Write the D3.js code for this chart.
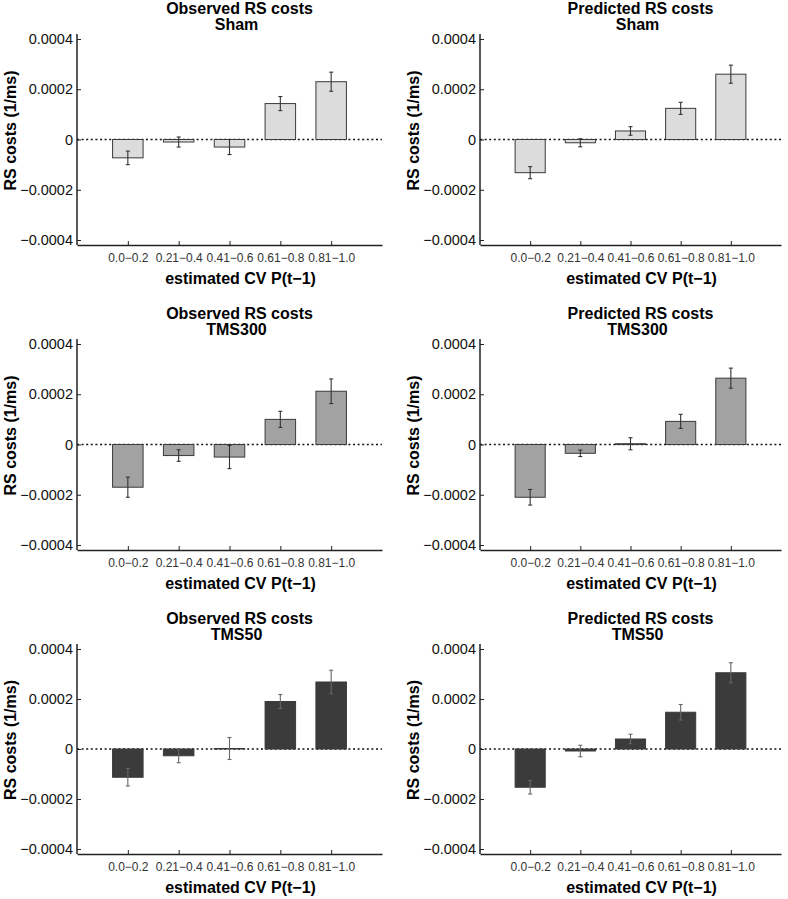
<!DOCTYPE html>
<html>
<head>
<meta charset="utf-8">
<script src="https://cdn.jsdelivr.net/npm/d3@7"></script>
<style>
  body { margin: 0; background: #fff; }
  svg text { font-family: "Liberation Sans", Arial, sans-serif; }
</style>
</head>
<body>
<svg id="chart" width="788" height="899"></svg>
<script>
const categories = ["0.0\u22120.2", "0.21\u22120.4", "0.41\u22120.6", "0.61\u22120.8", "0.81\u22121.0"];
const yTicks = [-0.0004, -0.0002, 0, 0.0002, 0.0004];
const conditions = ["Sham", "TMS300", "TMS50"];
const kinds = ["Observed RS costs", "Predicted RS costs"];

// bar heights and error bar half-widths
const observedSham = [-0.000073, -0.000010, -0.000030, 0.000143, 0.000230];
const observedShamErr = [0.000027, 0.000020, 0.000030, 0.000028, 0.000038];
const predictedSham = [-0.000132, -0.000013, 0.000034, 0.000124, 0.000260];
const predictedShamErr = [0.000024, 0.000016, 0.000017, 0.000024, 0.000036];

const observedTMS300 = [-0.000170, -0.000044, -0.000050, 0.000100, 0.000212];
const observedTMS300Err = [0.000040, 0.000023, 0.000046, 0.000032, 0.000049];
const predictedTMS300 = [-0.000210, -0.000035, 0.000003, 0.000092, 0.000264];
const predictedTMS300Err = [0.000031, 0.000013, 0.000024, 0.000028, 0.000040];

const observedTMS50 = [-0.000113, -0.000027, 0.000002, 0.000190, 0.000268];
const observedTMS50Err = [0.000035, 0.000028, 0.000044, 0.000028, 0.000047];
const predictedTMS50 = [-0.000153, -0.000008, 0.000040, 0.000147, 0.000305];
const predictedTMS50Err = [0.000027, 0.000023, 0.000019, 0.000031, 0.000040];

const fills = ["#dcdcdc", "#a2a2a2", "#3b3b3b"];

const panels = [
  { row: 0, col: 0, values: observedSham, errs: observedShamErr },
  { row: 0, col: 1, values: predictedSham, errs: predictedShamErr },
  { row: 1, col: 0, values: observedTMS300, errs: observedTMS300Err },
  { row: 1, col: 1, values: predictedTMS300, errs: predictedTMS300Err },
  { row: 2, col: 0, values: observedTMS50, errs: observedTMS50Err },
  { row: 2, col: 1, values: predictedTMS50, errs: predictedTMS50Err }
];

// pixel positions of +0.0004 / -0.0004 for each row, and x extent for each column
const rowTop = [39, 344, 649];
const rowBot = [240, 545, 849];
const colLeft = [77, 480];
const colRight = [382, 781];

const svg = d3.select("#chart");
const yFmt = d => d === 0 ? "0" : d3.format(".4f")(d);

panels.forEach(p => {
  const x = d3.scaleLinear().domain([0, 6]).range([colLeft[p.col], colRight[p.col]]);
  const y = d3.scaleLinear().domain([-0.0004, 0.0004]).range([rowBot[p.row], rowTop[p.row]]);
  const yMax = 0.00042;
  const bottom = y(-yMax);
  const g = svg.append("g");
  const mid = (colLeft[p.col] + colRight[p.col]) / 2;

  // zero line
  g.append("line")
    .attr("x1", x(0)).attr("x2", x(6))
    .attr("y1", y(0)).attr("y2", y(0))
    .attr("stroke", "#111")
    .attr("stroke-width", 1.3)
    .attr("stroke-dasharray", "2,2.6");

  const bw = x(0.6) - x(0);
  g.selectAll(".bar")
    .data(p.values)
    .enter()
    .append("rect")
    .attr("x", (d, i) => x(i + 1) - bw / 2)
    .attr("y", d => y(Math.max(0, d)))
    .attr("width", bw)
    .attr("height", d => Math.abs(y(d) - y(0)))
    .attr("fill", fills[p.row])
    .attr("stroke", "#3a3a3a")
    .attr("stroke-width", 1);

  // error bars
  const eb = g.selectAll(".err")
    .data(p.values.map((v, i) => ({ v, e: p.errs[i], i })))
    .enter()
    .append("g")
    .attr("stroke", p.row === 2 ? "#666" : "#333")
    .attr("stroke-width", 1.1);
  eb.append("line")
    .attr("x1", d => x(d.i + 1)).attr("x2", d => x(d.i + 1))
    .attr("y1", d => y(d.v + d.e)).attr("y2", d => y(d.v - d.e));
  eb.append("line")
    .attr("x1", d => x(d.i + 1) - 2).attr("x2", d => x(d.i + 1) + 2)
    .attr("y1", d => y(d.v + d.e)).attr("y2", d => y(d.v + d.e));
  eb.append("line")
    .attr("x1", d => x(d.i + 1) - 2).attr("x2", d => x(d.i + 1) + 2)
    .attr("y1", d => y(d.v - d.e)).attr("y2", d => y(d.v - d.e));

  // y axis
  const yAxis = g.append("g")
    .attr("transform", `translate(${x(0)},0)`)
    .call(d3.axisLeft(y).tickValues(yTicks).tickFormat(yFmt).tickSizeInner(-4).tickSizeOuter(0).tickPadding(4));
  yAxis.attr("font-size", null).attr("font-family", null);
  yAxis.select(".domain").remove();
  yAxis.selectAll("text").style("font-size", "14.5px").attr("fill", "#111");
  yAxis.selectAll("line").attr("stroke", "#222");
  g.append("line")
    .attr("x1", x(0)).attr("x2", x(0))
    .attr("y1", y(yMax)).attr("y2", bottom)
    .attr("stroke", "#222").attr("stroke-width", 1.5);

  // x axis
  const xAxis = g.append("g")
    .attr("transform", `translate(0,${bottom})`)
    .call(d3.axisBottom(x).tickValues([1, 2, 3, 4, 5]).tickFormat(i => categories[i - 1])
      .tickSizeInner(-4).tickSizeOuter(0).tickPadding(8));
  xAxis.attr("font-size", null).attr("font-family", null);
  xAxis.select(".domain").attr("stroke", "#222").attr("stroke-width", 1.5);
  xAxis.selectAll("line").attr("stroke", "#222");
  xAxis.selectAll("text").style("font-size", "12px").attr("fill", "#333");

  // titles
  g.append("text")
    .attr("x", mid + 10).attr("y", rowTop[p.row] - 30.5)
    .attr("dy", "0.36em")
    .attr("text-anchor", "middle")
    .style("font-weight", "bold").style("font-size", "16px")
    .text(kinds[p.col]);
  g.append("text")
    .attr("x", mid + 7).attr("y", rowTop[p.row] - 14.5)
    .attr("dy", "0.36em")
    .attr("text-anchor", "middle")
    .style("font-weight", "bold").style("font-size", "16px")
    .text(conditions[p.row]);

  g.append("text")
    .attr("x", mid + 11).attr("y", bottom + 33)
    .attr("dy", "0.36em")
    .attr("text-anchor", "middle")
    .style("font-weight", "bold").style("font-size", "16px")
    .text("estimated CV P(t\u22121)");

  g.append("text")
    .attr("transform", `translate(${x(0) - 67},${y(0) - 9}) rotate(-90)`)
    .attr("dy", "0.36em")
    .attr("text-anchor", "middle")
    .style("font-weight", "bold").style("font-size", "16px")
    .text("RS costs (1/ms)");
});
</script>
</body>
</html>
